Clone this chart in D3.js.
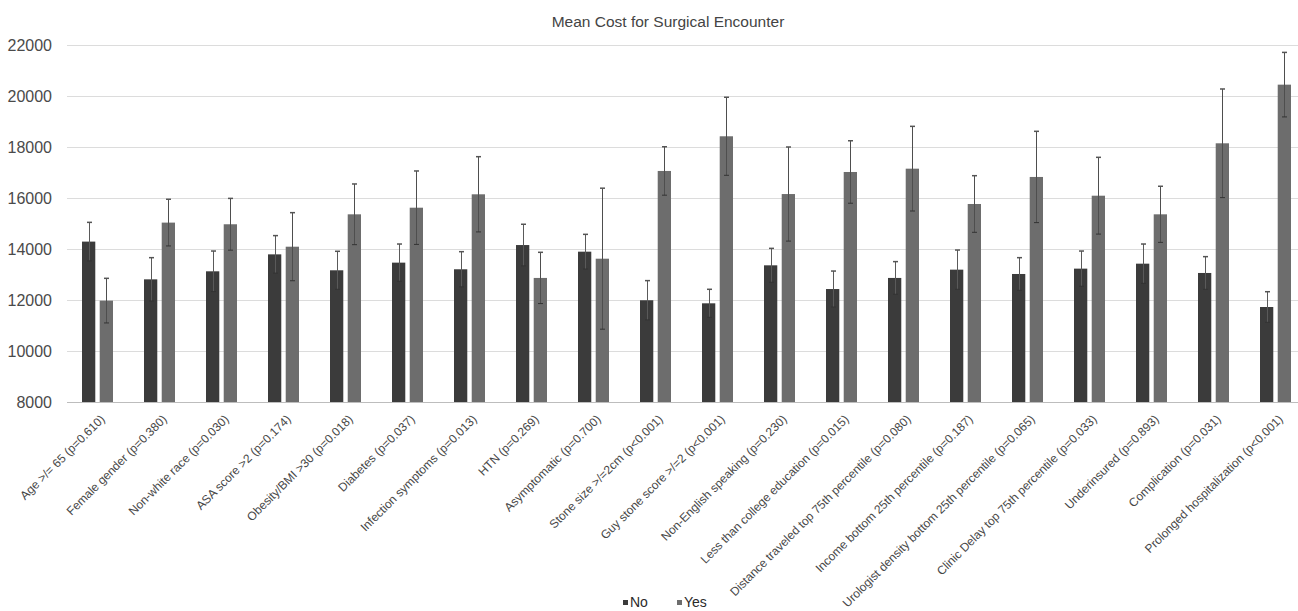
<!DOCTYPE html>
<html>
<head>
<meta charset="utf-8">
<script src="https://cdn.jsdelivr.net/npm/d3@7"></script>
<style>
  body { margin: 0; background: #fff; }
  svg { font-family: "Liberation Sans", Arial, sans-serif; }
</style>
</head>
<body>
<script>
var WIDTH = 1298;
var HEIGHT = 611;

// categories (x axis)
var categories = [
  "Age >/= 65 (p=0.610)", "Female gender (p=0.380)", "Non-white race (p=0.030)",
  "ASA score >2 (p=0.174)", "Obesity/BMI >30 (p=0.018)", "Diabetes (p=0.037)",
  "Infection symptoms (p=0.013)", "HTN (p=0.269)", "Asymptomatic (p=0.700)",
  "Stone size >/=2cm (p<0.001)", "Guy stone score >/=2 (p<0.001)",
  "Non-English speaking (p=0.230)", "Less than college education (p=0.015)",
  "Distance traveled top 75th percentile (p=0.080)", "Income bottom 25th percentile (p=0.187)",
  "Urologist density bottom 25th percentile (p=0.065)", "Clinic Delay top 75th percentile (p=0.033)",
  "Underinsured (p=0.893)", "Complication (p=0.031)", "Prolonged hospitalization (p<0.001)"
];

// mean cost, "No" group
var noMean = [14290, 12810, 13125, 13790, 13165, 13465, 13205, 14155, 13895, 11990,
              11870, 13360, 12430, 12865, 13190, 13020, 13230, 13425, 13060, 11725];
// error (+/-), "No" group
var noErr = [755, 850, 795, 735, 745, 730, 690, 815, 680, 770,
             550, 665, 705, 640, 770, 640, 690, 770, 640, 600];

// mean cost, "Yes" group
var yesMean = [11975, 15035, 14970, 14090, 15360, 15620, 16145, 12865, 13620, 17060,
               18420, 16155, 17020, 17150, 15765, 16825, 16090, 15360, 18145, 20445];
// error (+/-), "Yes" group
var yesErr = [875, 915, 1015, 1335, 1190, 1440, 1475, 1005, 2765, 950,
              1530, 1845, 1225, 1660, 1110, 1790, 1505, 1100, 2130, 1265];

var yTicks = [8000, 10000, 12000, 14000, 16000, 18000, 20000, 22000];
var groups = ["No", "Yes"];
var colors = { No: "#3b3b3b", Yes: "#6d6d6d" };

var svg = d3.select("body")
  .append("svg")
  .attr("width", WIDTH)
  .attr("height", HEIGHT);

var x0 = d3.scaleBand()
  .domain(categories)
  .range([66.5, 1306.5])
  .paddingInner(0.5)
  .paddingOuter(0.25);

var x1 = d3.scaleBand()
  .domain(groups)
  .range([0, x0.bandwidth()])
  .paddingInner(0.25);

var y = d3.scaleLinear()
  .domain([8000, 22000])
  .range([402, 45]);

// gridlines
svg.append("g")
  .selectAll("line")
  .data(yTicks)
  .enter()
  .append("line")
  .attr("x1", 67)
  .attr("x2", WIDTH)
  .attr("y1", function (d) { return Math.round(y(d)) + 0.5; })
  .attr("y2", function (d) { return Math.round(y(d)) + 0.5; })
  .attr("stroke", function (d) { return d == 8000 ? "#bdbdbd" : "#dcdcdc"; })
  .attr("stroke-width", 1);

// y axis labels
var yAxis = svg.append("g")
  .attr("transform", "translate(52,0)")
  .call(d3.axisLeft(y).tickValues(yTicks).tickSize(0).tickPadding(0).tickFormat(d3.format("d")));
yAxis.select(".domain").remove();
yAxis.selectAll("text")
  .attr("fill", "#4a4a4a")
  .style("font-size", "16px");

// rows of data
var rows = categories.map(function (c, i) {
  return {
    cat: c,
    vals: [
      { g: "No", v: noMean[i], e: noErr[i] },
      { g: "Yes", v: yesMean[i], e: yesErr[i] }
    ]
  };
});

var cat = svg.append("g")
  .selectAll("g")
  .data(rows)
  .enter()
  .append("g")
  .attr("transform", function (d) { return "translate(" + x0(d.cat) + ",0)"; });

cat.selectAll("rect")
  .data(function (d) { return d.vals; })
  .enter()
  .append("rect")
  .attr("x", function (d) { return x1(d.g); })
  .attr("width", x1.bandwidth())
  .attr("y", function (d) { return y(d.v); })
  .attr("height", function (d) { return y(8000) - y(d.v); })
  .attr("fill", function (d) { return colors[d.g]; });

// error bars
var err = cat.selectAll("g.err")
  .data(function (d) { return d.vals; })
  .enter()
  .append("g")
  .attr("class", "err")
  .attr("transform", function (d) { return "translate(" + (Math.round(x1(d.g) + x1.bandwidth() / 2) + 0.5) + ",0)"; });

err.append("line")
  .attr("y1", function (d) { return y(d.v + d.e); })
  .attr("y2", function (d) { return y(d.v - d.e); })
  .attr("stroke", function (d) { return d.g == "No" ? "#5a5a5a" : "#4e4e4e"; })
  .attr("stroke-width", 1);

err.append("line")
  .attr("x1", -2.5).attr("x2", 2.5)
  .attr("y1", function (d) { return y(d.v + d.e); })
  .attr("y2", function (d) { return y(d.v + d.e); })
  .attr("stroke", "#555")
  .attr("stroke-width", 1.5);

err.append("line")
  .attr("x1", -2.5).attr("x2", 2.5)
  .attr("y1", function (d) { return y(d.v - d.e); })
  .attr("y2", function (d) { return y(d.v - d.e); })
  .attr("stroke", "#333")
  .attr("stroke-width", 1);

// x axis labels
var xAxis = svg.append("g")
  .attr("transform", "translate(0,402)")
  .call(d3.axisBottom(x0).tickSize(0));
xAxis.select(".domain").remove();
xAxis.selectAll("text")
  .attr("x", 0)
  .attr("y", 0)
  .attr("dy", "0.71em")
  .attr("transform", "translate(2,12) rotate(-45)")
  .style("text-anchor", "end")
  .style("font-size", "12px")
  .attr("fill", "#474747");

// title
svg.append("text")
  .attr("x", 668)
  .attr("y", 27)
  .attr("text-anchor", "middle")
  .style("font-size", "15.5px")
  .attr("fill", "#444")
  .text("Mean Cost for Surgical Encounter");

// legend
var legend = svg.append("g");
var lx = { No: 623, Yes: 677 };
groups.forEach(function (g) {
  legend.append("rect")
    .attr("x", lx[g])
    .attr("y", 600)
    .attr("width", 5)
    .attr("height", 5)
    .attr("fill", colors[g]);
  legend.append("text")
    .attr("x", lx[g] + 7)
    .attr("y", 607)
    .style("font-size", "14px")
    .attr("fill", "#2a2a2a")
    .text(g);
});
</script>
</body>
</html>
